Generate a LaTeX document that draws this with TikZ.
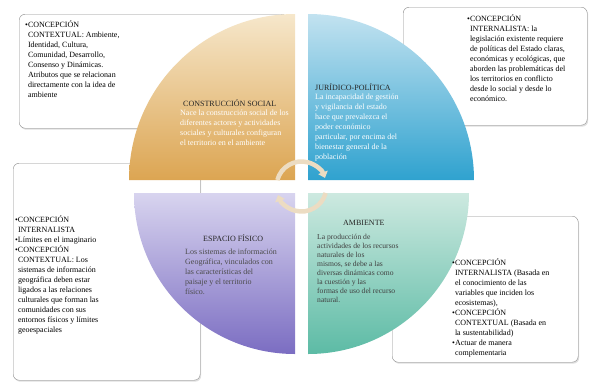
\documentclass[tikz,border=0pt]{standalone}
\usepackage{fontspec}
\setmainfont{Liberation Serif}
\usetikzlibrary{arrows.meta,shadows}
\definecolor{csTop}{HTML}{F6E7CB}\definecolor{csBot}{HTML}{DCA552}
\definecolor{jpTop}{HTML}{C2E2F0}\definecolor{jpBot}{HTML}{2FA2CF}
\definecolor{efTop}{HTML}{D8D4EF}\definecolor{efBot}{HTML}{7B6DC2}
\definecolor{amTop}{HTML}{CDE9E0}\definecolor{amBot}{HTML}{5CBBA5}
\definecolor{ringc}{HTML}{ECDCC2}
\newcommand\ind{\hphantom{•}}
\begin{document}
\begin{tikzpicture}[x=1pt,y=-1pt,
  box/.style={draw=black!45,rounded corners=6pt,fill=white,anchor=north west,
    drop shadow={opacity=.25,shadow xshift=1pt,shadow yshift=-1.5pt}},
  txt/.style={anchor=north west,align=left,inner sep=0pt,font=\fontsize{8}{10}\selectfont},
  head/.style={anchor=north west,inner sep=0pt,text=black!85,font=\fontsize{8}{10}\selectfont},
  ring/.style={line width=4.5pt,draw=ringc,-{Triangle[width=10pt,length=6pt]}}]
\useasboundingbox (0,0) rectangle (589,384);
% boxes behind the wheel
\node[box,minimum width=268pt,minimum height=114pt] (b1) at (19,14) {};
\node[box,minimum width=184pt,minimum height=118pt] (b2) at (403,7) {};
\node[box,minimum width=187pt,minimum height=217pt] (b3) at (13,163) {};
\node[box,minimum width=186pt,minimum height=146pt] (b4) at (392,216) {};
% four quarters
\foreach \q/\cx/\cy/\a/\b/\r/\ct/\cb in {cs/295/180/180/270/166/csTop/csBot,
  jp/308/180/0/-90/166/jpTop/jpBot, ef/295/193/180/90/161/efTop/efBot, am/308/193/0/90/161/amTop/amBot}
  \shade[top color=\ct,bottom color=\cb] (\cx,\cy) coordinate (\q) -- ++(\a:\r)
    arc[start angle=\a,end angle=\b,radius=\r] -- cycle;
\coordinate (c) at (301.5,186.5);
\draw[ring] (c) ++(195:25) arc[start angle=195,end angle=340,radius=25];
\draw[ring] (c) ++(15:25) arc[start angle=15,end angle=160,radius=25];
% quarter texts
\node[head] (cst) at (183,99) {CONSTRUCCIÓN SOCIAL};
\node[txt,text=white] (csb) at (180,110) {Nace la construcción social de los\\diferentes actores y actividades\\sociales y culturales configuran\\el territorio en el ambiente};
\node[head] (jpt) at (315,83) {JURÍDICO-POLÍTICA};
\node[txt,text=white] (jpb) at (315,94) {La incapacidad de gestión\\y vigilancia del estado\\hace que prevalezca el\\poder económico\\particular, por encima del\\bienestar general de la\\población};
\node[head] (eft) at (203,234) {ESPACIO FÍSICO};
\node[txt,text=black!70] (efb) at (185,249) {Los sistemas de información\\Geográfica, vinculados con\\las características del\\paisaje y el territorio\\físico.};
\node[head] (amt) at (343,220) {AMBIENTE};
\node[txt,text=black!75,font=\fontsize{7.6}{9}\selectfont] (amb) at (317,234) {La producción de\\actividades de los recursos\\naturales de los\\mismos, se debe a las\\diversas dinámicas como\\la cuestión y las\\formas de uso del recurso\\natural.};
% box texts
\node[txt] (t1) at (25,20) {•CONCEPCIÓN\\\ind CONTEXTUAL: Ambiente,\\\ind Identidad, Cultura,\\\ind Comunidad, Desarrollo,\\\ind Consenso y Dinámicas.\\\ind Atributos que se relacionan\\\ind directamente con la idea de\\\ind ambiente};
\node[txt] (t2) at (467,14) {•CONCEPCIÓN\\\ind INTERNALISTA: la\\\ind legislación existente requiere\\\ind de políticas del Estado claras,\\\ind económicas y ecológicas, que\\\ind aborden las problemáticas del\\\ind los territorios en conflicto\\\ind desde lo social y desde lo\\\ind económico.};
\node[txt] (t3) at (15,215) {•CONCEPCIÓN\\\ind INTERNALISTA\\•Límites en el imaginario\\•CONCEPCIÓN\\\ind CONTEXTUAL: Los\\\ind sistemas de información\\\ind geográfica deben estar\\\ind ligados a las relaciones\\\ind culturales que forman las\\\ind comunidades con sus\\\ind entornos físicos y límites\\\ind geoespaciales};
\node[txt] (t4) at (452,258) {•CONCEPCIÓN\\\ind INTERNALISTA (Basada en\\\ind el conocimiento de las\\\ind variables que inciden los\\\ind ecosistemas),\\•CONCEPCIÓN\\\ind CONTEXTUAL (Basada en\\\ind la sustentabilidad)\\•Actuar de manera\\\ind complementaria};
\end{tikzpicture}
\end{document}
